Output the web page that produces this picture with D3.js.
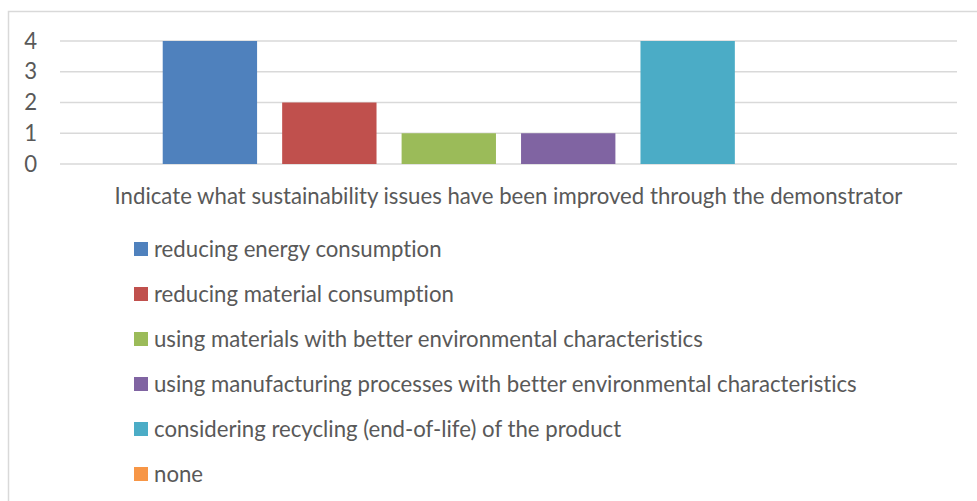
<!DOCTYPE html>
<html>
<head>
<meta charset="utf-8">
<script src="https://cdn.jsdelivr.net/npm/d3@7"></script>
<style>
    body { margin: 0; background: #fff; }
    svg { display: block; }
    text { font-family: Lato, "Open Sans", sans-serif; fill: #595959; font-variant-ligatures: none; }
</style>
</head>
<body>
<div id="chart"></div>
<script>
// single category, one bar per answer option
const category = "Indicate what sustainability issues have been improved through the demonstrator";
const series = [
    "reducing energy consumption",
    "reducing material consumption",
    "using materials with better environmental characteristics",
    "using manufacturing processes with better environmental characteristics",
    "considering recycling (end-of-life) of the product",
    "none"
];
const values = [4, 2, 1, 1, 4, 0];
const colors = ["#4F81BD", "#C0504D", "#9BBB59", "#8064A2", "#4BACC6", "#F79646"];
const yTicks = [0, 1, 2, 3, 4];

const width = 977, height = 501;
const margin = {top: 41, right: 20, bottom: 337, left: 60};
const innerWidth = width - margin.left - margin.right,
    innerHeight = height - margin.top - margin.bottom;
const fontSize = "22.2px";

let svg = d3.select("#chart").append("svg")
    .attr("width", width)
    .attr("height", height);

// chart area border (only top and left edges are inside the picture)
svg.append("path")
    .attr("d", `M8.5,${height}V11.5H${width}`)
    .attr("fill", "none")
    .attr("stroke", "#d9d9d9")
    .attr("stroke-width", 1.5);

let g = svg.append("g")
    .attr("transform", `translate(${margin.left},${margin.top})`);

let y = d3.scaleLinear().domain([0, 4]).range([innerHeight, 0]);

let x0 = d3.scaleBand().domain([category]).range([0, innerWidth]);
let x1 = d3.scaleBand().domain(series)
    .range([0, x0.bandwidth()])
    .paddingInner(0.21)
    .paddingOuter(0.86);

// gridlines
g.append("g")
    .selectAll("line")
    .data(yTicks)
    .enter().append("line")
    .attr("x1", 0).attr("x2", innerWidth)
    .attr("y1", d => y(d)).attr("y2", d => y(d))
    .attr("stroke", "#d9d9d9")
    .attr("stroke-width", 1.5);

// y axis labels
let yAxis = d3.axisLeft(y).tickValues(yTicks).tickFormat(d3.format("d"))
    .tickSize(0).tickPadding(23);
g.append("g")
    .call(yAxis)
    .call(a => a.select(".domain").remove())
    .selectAll("text")
    .style("font-size", fontSize)
    .style("font-family", "Lato, sans-serif")
    .attr("fill", "#595959");

// bars
g.append("g")
    .selectAll("rect")
    .data(series)
    .enter().append("rect")
    .attr("x", d => x0(category) + x1(d))
    .attr("width", x1.bandwidth())
    .attr("y", (d, i) => y(values[i]))
    .attr("height", (d, i) => innerHeight - y(values[i]))
    .attr("fill", (d, i) => colors[i]);

// category label
svg.append("text")
    .attr("x", margin.left + x0(category) + x0.bandwidth() / 2)
    .attr("y", 204)
    .attr("text-anchor", "middle")
    .style("font-size", fontSize)
    .text(category);

// legend
let legend = svg.append("g")
    .attr("transform", "translate(134,256)");

let item = legend.selectAll("g")
    .data(series)
    .enter().append("g")
    .attr("transform", (d, i) => `translate(0,${i * 45})`);

item.append("rect")
    .attr("x", 0).attr("y", -14)
    .attr("width", 14).attr("height", 14)
    .attr("fill", (d, i) => colors[i]);

item.append("text")
    .attr("x", 20)
    .attr("y", 1)
    .style("font-size", fontSize)
    .text(d => d);
</script>
</body>
</html>
